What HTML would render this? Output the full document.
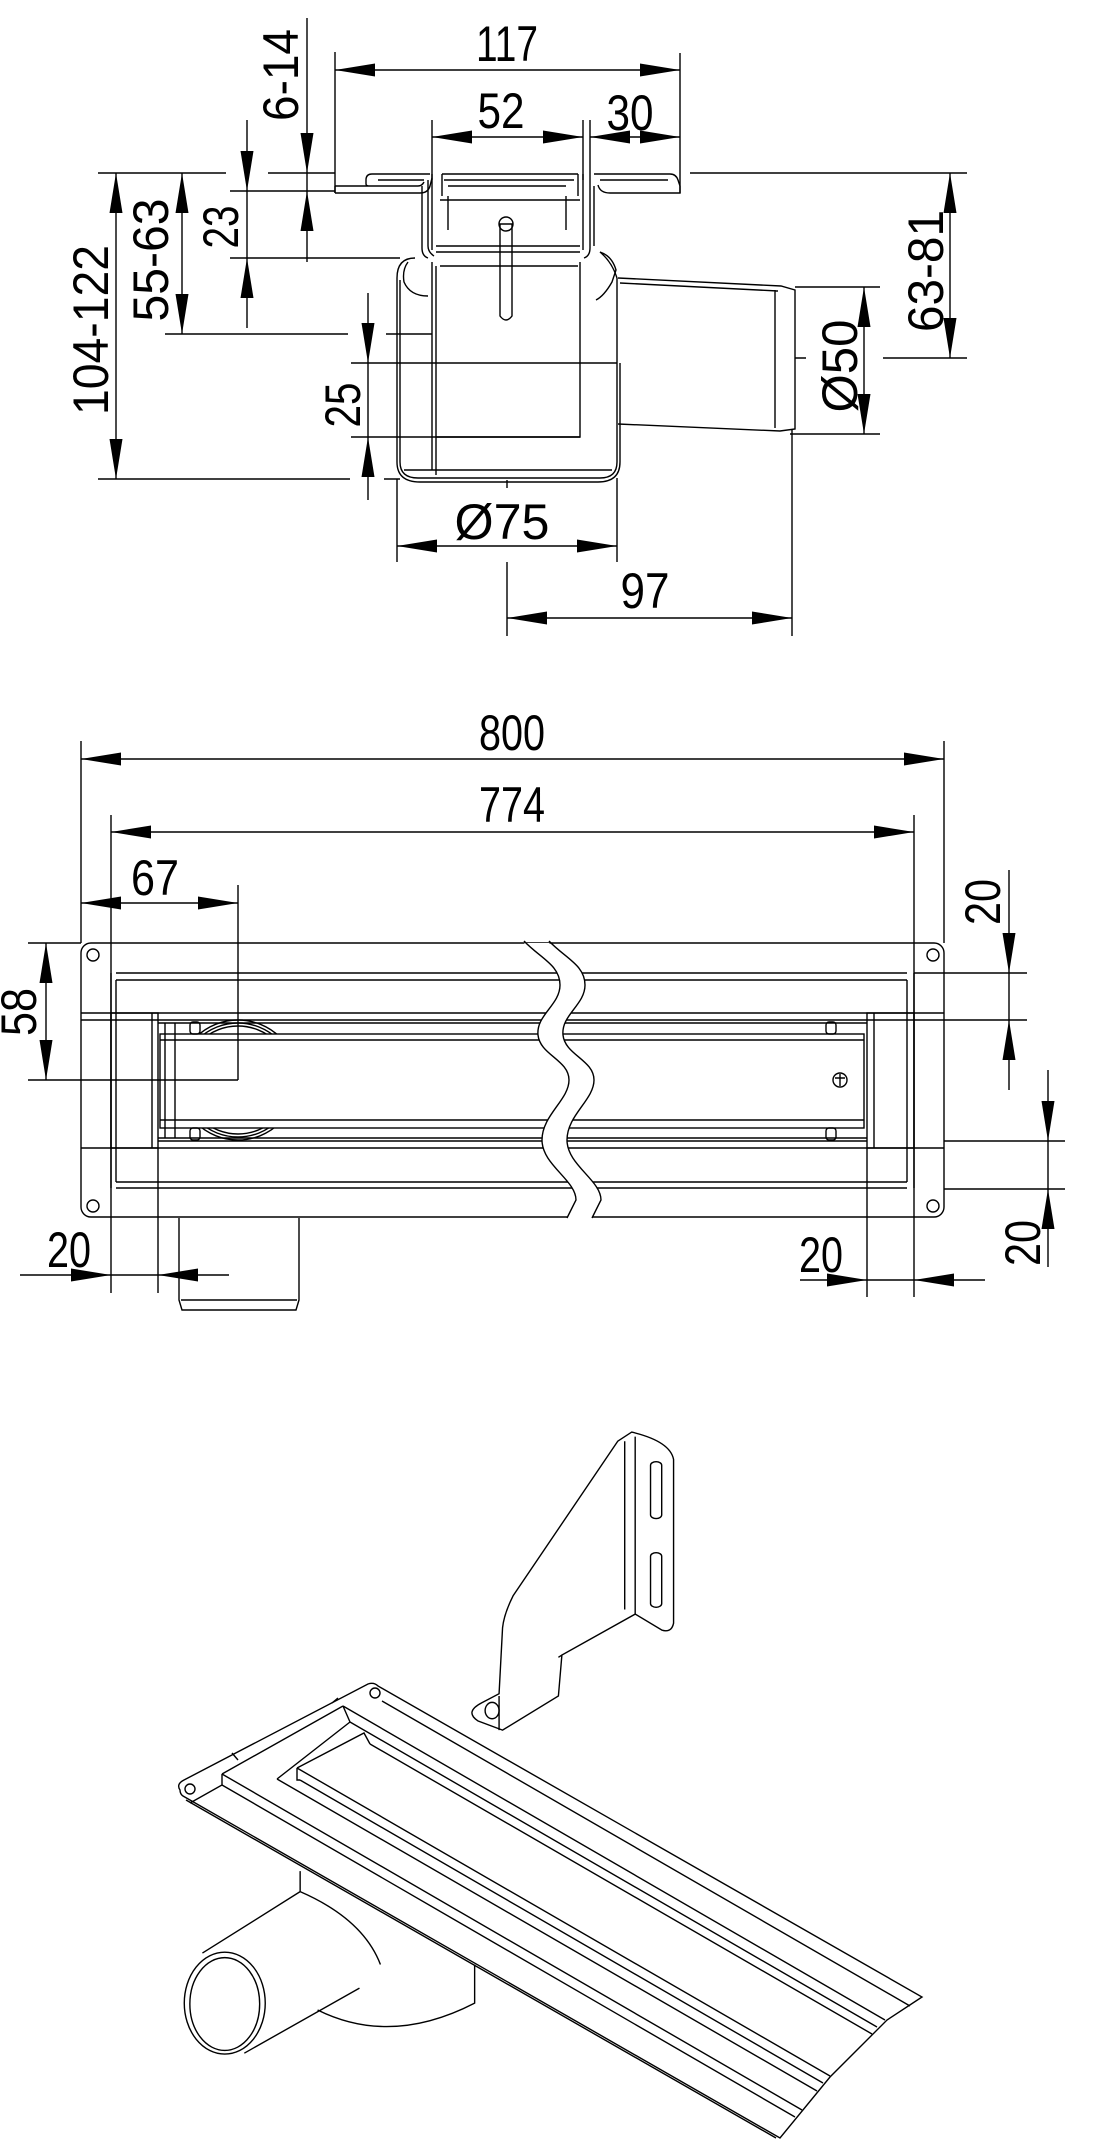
<!DOCTYPE html>
<html><head><meta charset="utf-8"><style>
html,body{margin:0;padding:0;background:#fff}
svg{display:block}
text{font-family:"Liberation Sans","DejaVu Sans",sans-serif;font-size:50px;fill:#000}
</style></head><body>
<svg width="1095" height="2139" viewBox="0 0 1095 2139" xmlns="http://www.w3.org/2000/svg">
<defs>
<clipPath id="outg"><path d="M0,0H1095V1034H0Z M0,1128H1095V2139H0Z"/></clipPath>
</defs>
<g fill="none" stroke="#000" stroke-width="1.4">

<!-- ===== TOP SECTION VIEW ===== -->
<path d="M335,52V193 M680,53V193 M432,120V180 M583,120V180 M590,120V180"/>
<path d="M98,173H226 M268,173H335 M690,173H967 M230,191H335 M230,258H400 M165,334H348 M386,334H432 M351,363H617 M351,437H580 M98,479H350 M384,479H400 M795,287H880 M790,434H880 M883,358H967 M795,358H806"/>
<path d="M397,479V562 M617,478V562 M507,480V488 M507,562V636 M792,429V636"/>
<path d="M335,70H680 M432,137H583 M590,137H680 M182,173V334 M116,173V479 M864,287V434 M950,173V358 M397,546H617 M507,618H792"/>
<path d="M307,18V262 M247,120V328 M368,293V500"/>

<path d="M335,193H420 Q428,193 430,186 L432,178 M335,186H418 Q422,186 424,182 M372,174H430 M378,180H424 M372,174 Q366,174 366,180 V184 Q366,186 370,186"/>
<path d="M335,186V193"/>
<path d="M594,174H670 Q676,174 678,180 L680,186 V193 H610 M600,180H668 M610,193 Q600,193 598,185"/>
<path d="M422,186V248 Q422,256 428,258 M428,180V246 Q428,252 434,256 M432,174V250 M583,174V250 M590,180V248 Q590,256 584,258 M594,186V246"/>
<path d="M442,174H578 M444,180H574 M442,174V196 M578,174V196 M448,196V230 M566,196V230 M448,186H566 M440,200H580 M436,246H580 M436,252H580 M440,266H578"/>
<path d="M500,224V316 Q506,324 512,316 V224 Z"/>
<circle cx="506" cy="224" r="7"/>
<path d="M397,278 Q397,258 415,258 M400,280 V462 Q400,478 418,478 H600 Q617,478 617,462 V363 M397,278 V462 Q397,482 420,482 H598 Q620,482 620,462 V363"/>
<path d="M404,470H612 M432,262 V470 M436,266 V475 M580,262 V437 H436"/>
<path d="M408,262 Q402,270 404,282 Q410,296 428,296 M600,252 Q612,256 616,270 L612,282 Q604,296 596,300"/>
<path d="M617,363V278 M617,278 Q612,262 600,252"/>
<path d="M618,278 L781,286 L795,290 V429 L780,431 L618,424 M775,290 V428 M620,283 L778,291"/>

<!-- ===== MIDDLE VIEW ===== -->
<path d="M81,741V943 M111,815V1293 M944,741V943 M914,815V1297 M238,885V1080 M158,1148V1293 M867,1148V1297"/>
<path d="M28,943H81 M28,1080H238 M914,973H1027 M944,1020H1027 M944,1141H1065 M944,1189H1065"/>
<path d="M81,759H944 M111,832H914 M81,903H238 M46,943V1080 M1009,870V1090 M1048,1070V1267"/>
<path d="M20,1275H229 M800,1280H985"/>
<rect x="81" y="943" width="863" height="274" rx="10"/>
<circle cx="93" cy="955" r="6"/><circle cx="93" cy="1206" r="6"/>
<circle cx="933" cy="955" r="6"/><circle cx="933" cy="1206" r="6"/>
<path d="M116,973H907 M116,980H907 M116,1182H907 M116,1188H907 M116,980V1182 M907,980V1182 M111,973V1188 M914,973V1188"/>
<path d="M81,1013H944 M81,1020H944 M81,1148H944 M158,1141H867"/>
<rect x="111" y="1013" width="47" height="135"/><path d="M152,1013V1148"/>
<rect x="867" y="1013" width="47" height="135"/><path d="M874,1013V1148"/>
<path d="M158,1023H867 M158,1138H867"/>
<rect x="160" y="1034" width="704" height="94"/>
<path d="M160,1040H864 M160,1120H864 M165,1023V1138 M175,1023V1138"/>
<rect x="190" y="1022" width="10" height="12" rx="3"/><rect x="190" y="1128" width="10" height="12" rx="3"/>
<rect x="826" y="1022" width="10" height="12" rx="3"/><rect x="826" y="1128" width="10" height="12" rx="3"/>
<g clip-path="url(#outg)"><circle cx="238" cy="1080" r="60"/><circle cx="238" cy="1080" r="57"/><circle cx="238" cy="1080" r="54"/></g>
<circle cx="840" cy="1080" r="7"/><path d="M835,1078H845 M840,1074V1086"/>
<path d="M179,1218V1300 L182,1310 H296 L299,1300 V1218 M181,1300H297"/>
<path d="M524,943 C540,958 560,965 560,985 C560,1005 536,1015 538,1035 C540,1055 569,1060 569,1080 C569,1100 542,1115 542,1140 C542,1165 576,1180 576,1200 L567,1218 L592,1218 L601,1200 C601,1180 567,1165 567,1140 C567,1115 594,1100 594,1080 C594,1060 565,1055 563,1035 C561,1015 585,1005 585,985 C585,965 565,958 549,943 Z" fill="#fff" stroke="none"/>
<path d="M524,941 C540,958 560,965 560,985 C560,1005 536,1015 538,1035 C540,1055 569,1060 569,1080 C569,1100 542,1115 542,1140 C542,1165 576,1180 576,1200 L567,1218"/>
<path d="M549,941 C565,958 585,965 585,985 C585,1005 561,1015 563,1035 C565,1055 594,1060 594,1080 C594,1100 567,1115 567,1140 C567,1165 601,1180 601,1200 L592,1218"/>

<!-- ===== ISOMETRIC ===== -->
<g transform="translate(0,1423) scale(0.698,0.455)">
<path vector-effect="non-scaling-stroke" d="M885,40 L905,20 Q960,40 965,80 L965,440 Q962,462 948,455 L910,420 L805,510 L800,600 L720,675 L685,655 Q665,635 690,615 L715,595 L720,450 Q722,420 735,380 Z"/>
<path vector-effect="non-scaling-stroke" d="M910,30V420 M895,40V410 M715,600V675 M805,510 L800,515"/>
<rect vector-effect="non-scaling-stroke" x="932" y="85" width="16" height="125" rx="8"/>
<rect vector-effect="non-scaling-stroke" x="932" y="285" width="16" height="120" rx="8"/>
<ellipse vector-effect="non-scaling-stroke" cx="705" cy="632" rx="10" ry="18"/>
<ellipse vector-effect="non-scaling-stroke" cx="322" cy="1275" rx="58" ry="112"/>
<ellipse vector-effect="non-scaling-stroke" cx="322" cy="1277" rx="50" ry="102"/>
<path vector-effect="non-scaling-stroke" d="M290,1165 L430,1030 M350,1385 L515,1242 M430,985 V1030 Q520,1090 545,1190 M455,1290 Q560,1370 680,1275 V1190"/>
</g>
<!-- channel (original coords) -->
<path d="M180,1790 Q176,1784 184,1780 L368,1684 Q374,1682 378,1686 L922,1997 L887,2020 L830,2077 L780,2138 L183,1796 Q180,1794 180,1790 Z" fill="#fff"/>
<circle cx="190" cy="1789" r="5"/><circle cx="375" cy="1693" r="5"/>
<path d="M186,1800 L776,2138"/>
<path d="M382,1701 L910,2006 M343,1706 L885,2020 M350,1722 L877,2027 M370,1744 L872,2034 M297,1768 L830,2076 M300,1780 L823,2083 M277,1779 L817,2091 M222,1774 L802,2110 M222,1785 L795,2117"/>
<path d="M222,1774 L343,1706 M222,1774 V1785 L190,1803 M277,1779 L350,1722 M343,1706 L350,1722 M297,1768 L364,1733 L370,1744 M297,1768 V1780 L300,1780 M238,1760 L232,1753 M332,1703 L338,1698"/>
</g>

<!-- ===== ARROWHEADS ===== -->
<g fill="#000" stroke="none">
<polygon points="335,70 375,63.5 375,76.5"/><polygon points="680,70 640,63.5 640,76.5"/>
<polygon points="432,137 472,130.5 472,143.5"/><polygon points="583,137 543,130.5 543,143.5"/>
<polygon points="590,137 630,130.5 630,143.5"/><polygon points="680,137 640,130.5 640,143.5"/>
<polygon points="397,546 437,539.5 437,552.5"/><polygon points="617,546 577,539.5 577,552.5"/>
<polygon points="507,618 547,611.5 547,624.5"/><polygon points="792,618 752,611.5 752,624.5"/>
<polygon points="81,759 121,752.5 121,765.5"/><polygon points="944,759 904,752.5 904,765.5"/>
<polygon points="111,832 151,825.5 151,838.5"/><polygon points="914,832 874,825.5 874,838.5"/>
<polygon points="81,903 121,896.5 121,909.5"/><polygon points="238,903 198,896.5 198,909.5"/>
<polygon points="111,1275 71,1268.5 71,1281.5"/><polygon points="158,1275 198,1268.5 198,1281.5"/>
<polygon points="867,1280 827,1273.5 827,1286.5"/><polygon points="914,1280 954,1273.5 954,1286.5"/>
<polygon points="307,173 300.5,133 313.5,133"/><polygon points="307,191 300.5,231 313.5,231"/>
<polygon points="247,191 240.5,151 253.5,151"/><polygon points="247,258 240.5,298 253.5,298"/>
<polygon points="182,173 175.5,213 188.5,213"/><polygon points="182,334 175.5,294 188.5,294"/>
<polygon points="116,173 109.5,213 122.5,213"/><polygon points="116,479 109.5,439 122.5,439"/>
<polygon points="368,363 361.5,323 374.5,323"/><polygon points="368,437 361.5,477 374.5,477"/>
<polygon points="864,287 857.5,327 870.5,327"/><polygon points="864,434 857.5,394 870.5,394"/>
<polygon points="950,173 943.5,213 956.5,213"/><polygon points="950,358 943.5,318 956.5,318"/>
<polygon points="46,943 39.5,983 52.5,983"/><polygon points="46,1080 39.5,1040 52.5,1040"/>
<polygon points="1009,973 1002.5,933 1015.5,933"/><polygon points="1009,1020 1002.5,1060 1015.5,1060"/>
<polygon points="1048,1141 1041.5,1101 1054.5,1101"/><polygon points="1048,1189 1041.5,1229 1054.5,1229"/>
</g>

<!-- ===== TEXT ===== -->
<g>
<text x="507" y="61" text-anchor="middle" textLength="62" lengthAdjust="spacingAndGlyphs">117</text>
<text x="501" y="128" text-anchor="middle" textLength="47" lengthAdjust="spacingAndGlyphs">52</text>
<text x="630" y="130" text-anchor="middle" textLength="47" lengthAdjust="spacingAndGlyphs">30</text>
<text transform="translate(298,75) rotate(-90)" text-anchor="middle" textLength="92" lengthAdjust="spacingAndGlyphs">6-14</text>
<text transform="translate(238,227) rotate(-90)" text-anchor="middle" textLength="43" lengthAdjust="spacingAndGlyphs">23</text>
<text transform="translate(168,260) rotate(-90)" text-anchor="middle" textLength="123" lengthAdjust="spacingAndGlyphs">55-63</text>
<text transform="translate(108,330) rotate(-90)" text-anchor="middle" textLength="170" lengthAdjust="spacingAndGlyphs">104-122</text>
<text transform="translate(360,405) rotate(-90)" text-anchor="middle" textLength="45" lengthAdjust="spacingAndGlyphs">25</text>
<text transform="translate(857,366) rotate(-90)" text-anchor="middle" textLength="93" lengthAdjust="spacingAndGlyphs">Ø50</text>
<text transform="translate(943,271) rotate(-90)" text-anchor="middle" textLength="122" lengthAdjust="spacingAndGlyphs">63-81</text>
<text x="502" y="539" text-anchor="middle" textLength="95" lengthAdjust="spacingAndGlyphs">Ø75</text>
<text x="645" y="608" text-anchor="middle" textLength="49" lengthAdjust="spacingAndGlyphs">97</text>
<text x="512" y="750" text-anchor="middle" textLength="66" lengthAdjust="spacingAndGlyphs">800</text>
<text x="512" y="822" text-anchor="middle" textLength="66" lengthAdjust="spacingAndGlyphs">774</text>
<text x="155" y="895" text-anchor="middle" textLength="48" lengthAdjust="spacingAndGlyphs">67</text>
<text transform="translate(36,1012) rotate(-90)" text-anchor="middle" textLength="48" lengthAdjust="spacingAndGlyphs">58</text>
<text x="69" y="1267" text-anchor="middle" textLength="44" lengthAdjust="spacingAndGlyphs">20</text>
<text x="821" y="1272" text-anchor="middle" textLength="44" lengthAdjust="spacingAndGlyphs">20</text>
<text transform="translate(1000,902) rotate(-90)" text-anchor="middle" textLength="46" lengthAdjust="spacingAndGlyphs">20</text>
<text transform="translate(1040,1243) rotate(-90)" text-anchor="middle" textLength="46" lengthAdjust="spacingAndGlyphs">20</text>
</g>
</svg>
</body></html>
